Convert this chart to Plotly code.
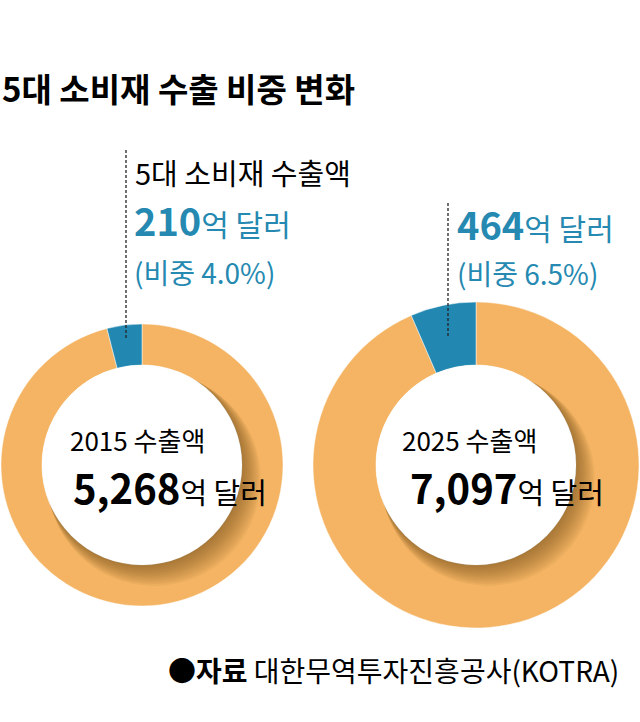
import plotly.graph_objects as go

# ---- data ----
years = ["2015", "2025"]
total_exports = [5268, 7097]          # 억 달러
consumer_exports = [210, 464]         # 억 달러 (5대 소비재)
consumer_share = [4.0, 6.5]           # %
slice_labels = ["기타", "5대 소비재"]

ORANGE = "#F4B463"
BLUE = "#2288B2"
TXT_BLUE = "#2589B1"
FONT = "Noto Sans CJK KR"

W, H = 640, 722

# donut geometry (pixels): centre x, centre y, outer radius, inner radius
geom = [(142, 465, 141, 100), (476, 465, 163, 100)]

def px(x):
    return x / W

def py(y):
    return 1 - y / H

fig = go.Figure()
for i, (cx, cy, ro, ri) in enumerate(geom):
    s = consumer_share[i]
    fig.add_trace(go.Pie(
        labels=slice_labels,
        values=[100 - s, s],
        sort=False,
        direction="clockwise",
        rotation=0,
        hole=ri / ro,
        marker=dict(colors=[ORANGE, BLUE], line=dict(color="rgba(255,255,255,0.6)", width=0.8)),
        textinfo="none",
        hoverinfo="label+percent",
        domain=dict(x=[px(cx - ro), px(cx + ro)], y=[py(cy + ro), py(cy - ro)]),
        showlegend=False,
    ))

shapes = []
# inner drop shadow + white centre
for i, (cx, cy, ro, ri) in enumerate(geom):
    for k in range(1, 12):
        r = ri + 0.6 * k
        ox, oy = 1.1 * k, 1.3 * k
        shapes.append(dict(type="circle", xref="paper", yref="paper", layer="above",
                           x0=px(cx + ox - r), x1=px(cx + ox + r),
                           y0=py(cy + oy + r), y1=py(cy + oy - r),
                           fillcolor="rgba(100,60,10,0.06)", line=dict(width=0)))
    shapes.append(dict(type="circle", xref="paper", yref="paper", layer="above",
                       x0=px(cx - ri), x1=px(cx + ri), y0=py(cy + ri), y1=py(cy - ri),
                       fillcolor="white", line=dict(width=0)))

# dotted leader lines
for (x, y0, y1) in [(126, 150, 338), (448, 203, 338)]:
    shapes.append(dict(type="line", xref="paper", yref="paper", layer="above",
                       x0=px(x), x1=px(x), y0=py(y0), y1=py(y1),
                       line=dict(color="#222222", width=1.3, dash="3px,2px")))

ann = []
def text(x, y, s, size, color="black", anchor="left"):
    ann.append(dict(x=px(x), y=py(y), xref="paper", yref="paper", text=s, showarrow=False,
                    xanchor=anchor, yanchor="middle", align="left",
                    font=dict(family=FONT, size=size, color=color)))

text(0, 88, "<b>5대 소비재 수출 비중 변화</b>", 33)
text(133, 172, "5대 소비재 수출액", 29)

label_pos = [(132, 220, 272), (455, 223, 273)]
for i, (x, y1, y2) in enumerate(label_pos):
    text(x, y1, f"<b><span style='font-size:38px'>{consumer_exports[i]:,}</span></b>억 달러", 30, TXT_BLUE)
    text(x, y2, f"(비중 {consumer_share[i]:.1f}%)", 28, TXT_BLUE)

center_pos = [(68, 440, 487), (400, 440, 487)]
for i, (x, y1, y2) in enumerate(center_pos):
    text(x, y1, f"{years[i]} 수출액", 26)
    text(x + 3 if i == 0 else x + 8, y2,
         f"<b><span style='font-size:40px'>{total_exports[i]:,}</span></b>억 달러", 29)

text(166, 670, "<b>●자료</b> 대한무역투자진흥공사(KOTRA)", 28)

fig.update_layout(
    width=W, height=H, margin=dict(l=0, r=0, t=0, b=0),
    paper_bgcolor="white", plot_bgcolor="white",
    shapes=shapes, annotations=ann, showlegend=False,
)
fig.write_html("out.html")
